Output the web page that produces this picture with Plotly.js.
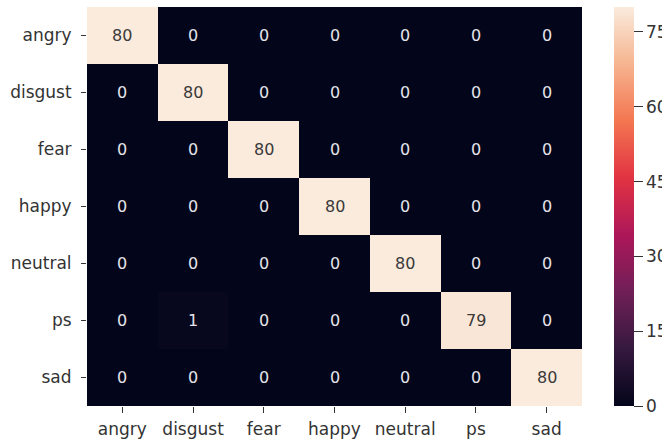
<!DOCTYPE html>
<html>
<head>
<meta charset="utf-8">
<script src="https://cdn.plot.ly/plotly-3.0.1.min.js"></script>
<style>
html,body{margin:0;padding:0;background:#fff;}
#chart{width:662px;height:445px;}
</style>
</head>
<body>
<div id="chart"></div>
<script>
// Labels (true = rows, predicted = columns)
const classLabels = ["angry", "disgust", "fear", "happy", "neutral", "ps", "sad"];
// Confusion matrix counts, one array per true class
const rowAngry   = [80, 0, 0, 0, 0, 0, 0];
const rowDisgust = [0, 80, 0, 0, 0, 0, 0];
const rowFear    = [0, 0, 80, 0, 0, 0, 0];
const rowHappy   = [0, 0, 0, 80, 0, 0, 0];
const rowNeutral = [0, 0, 0, 0, 80, 0, 0];
const rowPs      = [0, 1, 0, 0, 0, 79, 0];
const rowSad     = [0, 0, 0, 0, 0, 0, 80];
const counts = [rowAngry, rowDisgust, rowFear, rowHappy, rowNeutral, rowPs, rowSad];
// Colorbar tick values
const cbTicks = [0, 15, 30, 45, 60, 75];

const rocket = [
  [0.0, "#03051A"],
  [0.143, "#35193E"],
  [0.286, "#701F57"],
  [0.429, "#AD1759"],
  [0.571, "#E13342"],
  [0.714, "#F37651"],
  [0.857, "#F6B48F"],
  [1.0, "#FAEBDD"]
];

const zmin = 0, zmax = 80;
const annotations = [];
counts.forEach((row, i) => {
  row.forEach((v, j) => {
    const frac = (v - zmin) / (zmax - zmin);
    annotations.push({
      x: classLabels[j], y: classLabels[i], xref: "x", yref: "y",
      text: String(v), showarrow: false,
      font: {family: "DejaVu Sans", size: 16, color: frac > 0.6 ? "#3a3a3a" : "#e4e4ea"}
    });
  });
});

const tickFont = {family: "DejaVu Sans", size: 17, color: "#333333"};

const trace = {
  type: "heatmap",
  z: counts,
  x: classLabels,
  y: classLabels,
  zmin: zmin, zmax: zmax,
  colorscale: rocket,
  hoverinfo: "skip",
  colorbar: {
    x: 1.0646, xanchor: "left", xpad: 0,
    y: 0.5, yanchor: "middle", ypad: 0,
    len: 1, lenmode: "fraction",
    thickness: 20, thicknessmode: "pixels",
    outlinewidth: 0,
    tickmode: "array", tickvals: cbTicks, ticktext: cbTicks.map(String),
    ticks: "outside", ticklen: 9, tickwidth: 1, tickcolor: "#333333",
    tickfont: tickFont
  }
};

const layout = {
  width: 662, height: 445,
  margin: {l: 87, r: 80, t: 7, b: 39, pad: 0, autoexpand: false},
  paper_bgcolor: "#fff", plot_bgcolor: "#fff",
  font: {family: "DejaVu Sans", color: "#333333"},
  xaxis: {
    type: "category", showgrid: false, zeroline: false, showline: false,
    ticks: "outside", ticklen: 6, tickwidth: 1, tickcolor: "#333333",
    ticklabelstandoff: 2,
    tickfont: tickFont
  },
  yaxis: {
    type: "category", autorange: "reversed", showgrid: false, zeroline: false, showline: false,
    ticks: "outside", ticklen: 5, tickwidth: 1, tickcolor: "#333333",
    ticklabelstandoff: 6,
    tickfont: tickFont
  },
  annotations: annotations
};

Plotly.newPlot("chart", [trace], layout, {displayModeBar: false, staticPlot: true});
</script>
</body>
</html>
